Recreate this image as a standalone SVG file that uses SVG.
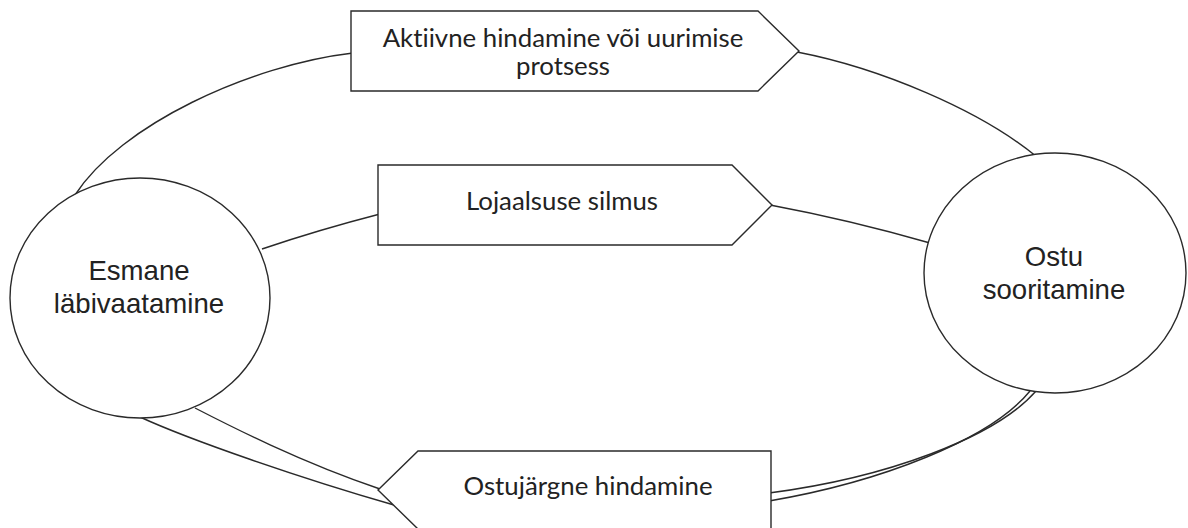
<svg xmlns="http://www.w3.org/2000/svg" width="1188" height="528" viewBox="0 0 1188 528">
  <style>
    .bg { fill: #ffffff; }
    .conn { fill: none; stroke: #2a2a2a; stroke-width: 1.4; }
    .shape { fill: #ffffff; stroke: #2a2a2a; stroke-width: 1.4; }
    .lbl { font-family: Lato, "Open Sans", sans-serif; font-size: 25.8px; fill: #222222; text-anchor: middle; font-variant-ligatures: none; }
    .clbl { font-family: "Liberation Sans", Arial, sans-serif; font-size: 27.6px; fill: #222222; text-anchor: middle; }
  </style>
  <rect class="bg" x="0" y="0" width="1188" height="528"/>
  <g id="connectors">
    <path class="conn" d="M 75 195 C 120 125, 250 65, 353 53"/>
    <path class="conn" d="M 797 52 C 880 68, 980 110, 1037 157"/>
    <path class="conn" d="M 262 249 Q 318 230 380 214"/>
    <path class="conn" d="M 770 205 Q 850 220 930 243"/>
    <path class="conn" d="M 195 408 C 230 426, 300 462, 380 489"/>
    <path class="conn" d="M 140 417 C 190 440, 300 478, 394 505"/>
    <path class="conn" d="M 1030 391 C 990 440, 880 482, 769 501"/>
    <path class="conn" d="M 1036 391 C 995 438, 885 478, 769 493"/>
  </g>
  <g id="node-aktiivne">
    <polygon class="shape" points="351,11 758,11 799,51 758,91 351,91"/>
    <text class="lbl" x="563" y="47">Aktiivne hindamine või uurimise</text>
    <text class="lbl" x="563" y="75">protsess</text>
  </g>
  <g id="node-lojaalsus">
    <polygon class="shape" points="378,165 732,165 772,205 732,245 378,245"/>
    <text class="lbl" x="562" y="210">Lojaalsuse silmus</text>
  </g>
  <g id="node-ostujargne">
    <polygon class="shape" points="378,490 418,451 771,451 771,529 418,529"/>
    <text class="lbl" x="588" y="495">Ostujärgne hindamine</text>
  </g>
  <g id="node-esmane">
    <ellipse class="shape" cx="140" cy="298" rx="130" ry="120"/>
    <text class="clbl" x="139" y="280">Esmane</text>
    <text class="clbl" x="139" y="313">läbivaatamine</text>
  </g>
  <g id="node-ostu">
    <ellipse class="shape" cx="1055" cy="273" rx="131" ry="120"/>
    <text class="clbl" x="1054" y="266">Ostu</text>
    <text class="clbl" x="1054" y="299">sooritamine</text>
  </g>
</svg>
